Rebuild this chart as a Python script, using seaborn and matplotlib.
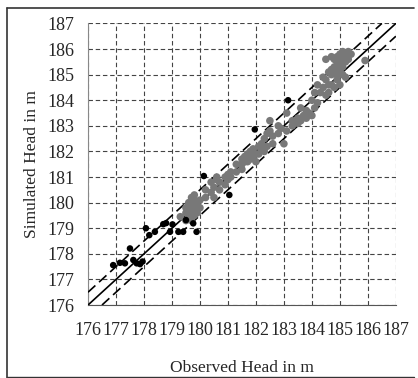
import matplotlib
matplotlib.use("Agg")
import numpy as np
import pandas as pd
import seaborn as sns
import matplotlib.pyplot as plt
from matplotlib.lines import Line2D

# black points (lower range)
obs_black = [176.9, 177.14, 177.32, 177.5, 177.62, 177.74, 177.86, 177.95, 178.07, 178.19,
             178.39, 178.69, 178.79, 178.93, 179.02, 179.23, 179.4, 179.5, 179.76, 179.88,
             180.14, 181.05, 181.96, 183.15]
sim_black = [177.56, 177.65, 177.63, 178.21, 177.76, 177.63, 177.6, 177.7, 179.0, 178.73,
             178.86, 179.16, 179.2, 178.86, 179.15, 178.86, 178.86, 179.32, 179.19, 178.86,
             181.04, 180.3, 182.86, 184.0]

# gray points
obs_gray = [179.3, 179.5, 179.5, 179.5, 179.6, 179.6, 179.6, 179.6, 179.7, 179.7,
            179.7, 179.7, 179.7, 179.8, 179.8, 179.8, 179.8, 179.9, 179.9, 180.0,
            180.0, 180.2, 180.2, 180.4, 180.4, 180.5, 180.5, 180.6, 180.6, 180.7,
            180.7, 180.9, 180.9, 181.0, 181.0, 181.1, 181.1, 181.3, 181.3, 181.5,
            181.5, 181.5, 181.6, 181.6, 181.7, 181.7, 181.7, 181.8, 181.8, 181.9,
            181.9, 182.0, 182.0, 182.1, 182.1, 182.2, 182.2, 182.3, 182.3, 182.4,
            182.4, 182.5, 182.5, 182.6, 182.6, 182.8, 182.8, 182.9, 183.0, 183.1,
            183.1, 183.3, 183.3, 183.5, 183.5, 183.6, 183.6, 183.7, 183.8, 183.8,
            183.9, 184.0, 184.0, 184.1, 184.1, 184.2, 184.2, 184.3, 184.4, 184.4,
            184.5, 184.5, 184.5, 184.6, 184.6, 184.6, 184.7, 184.7, 184.7, 184.7,
            184.8, 184.8, 184.8, 184.8, 184.9, 184.9, 184.9, 184.9, 185.0, 185.0,
            185.0, 185.0, 185.1, 185.1, 185.1, 185.1, 185.2, 185.2, 185.2, 185.3,
            185.3, 185.4, 185.9]
sim_gray = [179.45, 179.3, 179.6, 179.8, 179.4, 179.5, 179.7, 180.0, 179.3, 179.45,
            179.6, 179.9, 180.2, 179.5, 179.7, 180.1, 180.3, 179.6, 179.9, 179.8,
            180.1, 180.5, 180.2, 180.8, 180.4, 180.6, 180.2, 180.9, 181.0, 180.5,
            180.8, 181.0, 180.7, 181.1, 180.9, 181.2, 181.0, 181.2, 181.5, 181.5,
            181.7, 181.3, 181.8, 181.6, 181.9, 181.6, 181.8, 182.0, 181.7, 181.8,
            182.1, 181.6, 181.9, 182.2, 181.9, 182.3, 182.1, 182.0, 182.5, 182.2,
            182.7, 183.2, 182.8, 182.3, 182.6, 183.0, 182.7, 182.9, 182.3, 183.5,
            182.8, 183.2, 183.0, 183.3, 183.1, 183.2, 183.7, 183.4, 183.3, 183.6,
            183.5, 183.4, 184.0, 183.7, 184.3, 183.9, 184.6, 184.3, 184.9, 184.5,
            184.8, 184.2, 185.6, 185.1, 184.6, 184.3, 185.0, 185.2, 184.6, 185.7,
            184.5, 185.3, 185.1, 185.6, 184.8, 185.5, 185.0, 185.7, 185.2, 184.6,
            185.8, 185.4, 185.0, 185.6, 185.3, 185.9, 185.5, 185.7, 184.9, 185.9,
            185.6, 185.8, 185.55]

ticks = list(range(176, 188))

df_black = pd.DataFrame({"obs": obs_black, "sim": sim_black})
df_gray = pd.DataFrame({"obs": obs_gray, "sim": sim_gray})

sns.set_style("white")
plt.rcParams["font.family"] = ["Liberation Serif", "DejaVu Serif"]

fig = plt.figure(figsize=(4.18, 3.78), dpi=100)
ax = fig.add_axes([0.2105, 0.193, 0.7365, 0.745])

ax.grid(True, color="#444444", linestyle=(0, (4, 2.5)), linewidth=0.8)
ax.set_axisbelow(True)

# 1:1 line and +/- 0.5 m band
ax.plot([176, 187], [176, 187], color="black", lw=1.2, zorder=3)
ax.plot([176, 186.5], [176.5, 187], color="black", lw=1.2, ls=(0, (6, 3)), zorder=3)
ax.plot([176.5, 187], [176, 186.5], color="black", lw=1.2, ls=(0, (6, 3)), zorder=3)

sns.scatterplot(data=df_gray, x="obs", y="sim", ax=ax, color="#787878", s=30,
                edgecolor="none", zorder=4)
sns.scatterplot(data=df_black, x="obs", y="sim", ax=ax, color="black", s=22,
                edgecolor="none", zorder=5)

ax.set_xlim(176, 187)
ax.set_ylim(176, 187)
ax.set_xticks(ticks)
ax.set_yticks(ticks)
ax.tick_params(direction="inout", length=6, width=0.8, color="#555555",
               labelsize=13, pad=9)
ax.tick_params(axis="y", pad=7)
ax.set_xlabel("Observed Head in m", fontsize=12.5, labelpad=15)
ax.set_ylabel("Simulated Head in m", fontsize=12.5, labelpad=5)

for side in ["top", "right"]:
    ax.spines[side].set_visible(False)
ax.spines["left"].set_color("#888888")
ax.spines["bottom"].set_color("#555555")

# frame around the whole chart
fig.add_artist(Line2D([0.017, 0.017], [0.0, 0.978], color="#333333", lw=1.2))
fig.add_artist(Line2D([0.017, 0.99], [0.978, 0.978], color="#333333", lw=1.2))
fig.add_artist(Line2D([0.017, 0.99], [0.003, 0.003], color="#333333", lw=1.0))

fig.savefig("out.png", dpi=100)
